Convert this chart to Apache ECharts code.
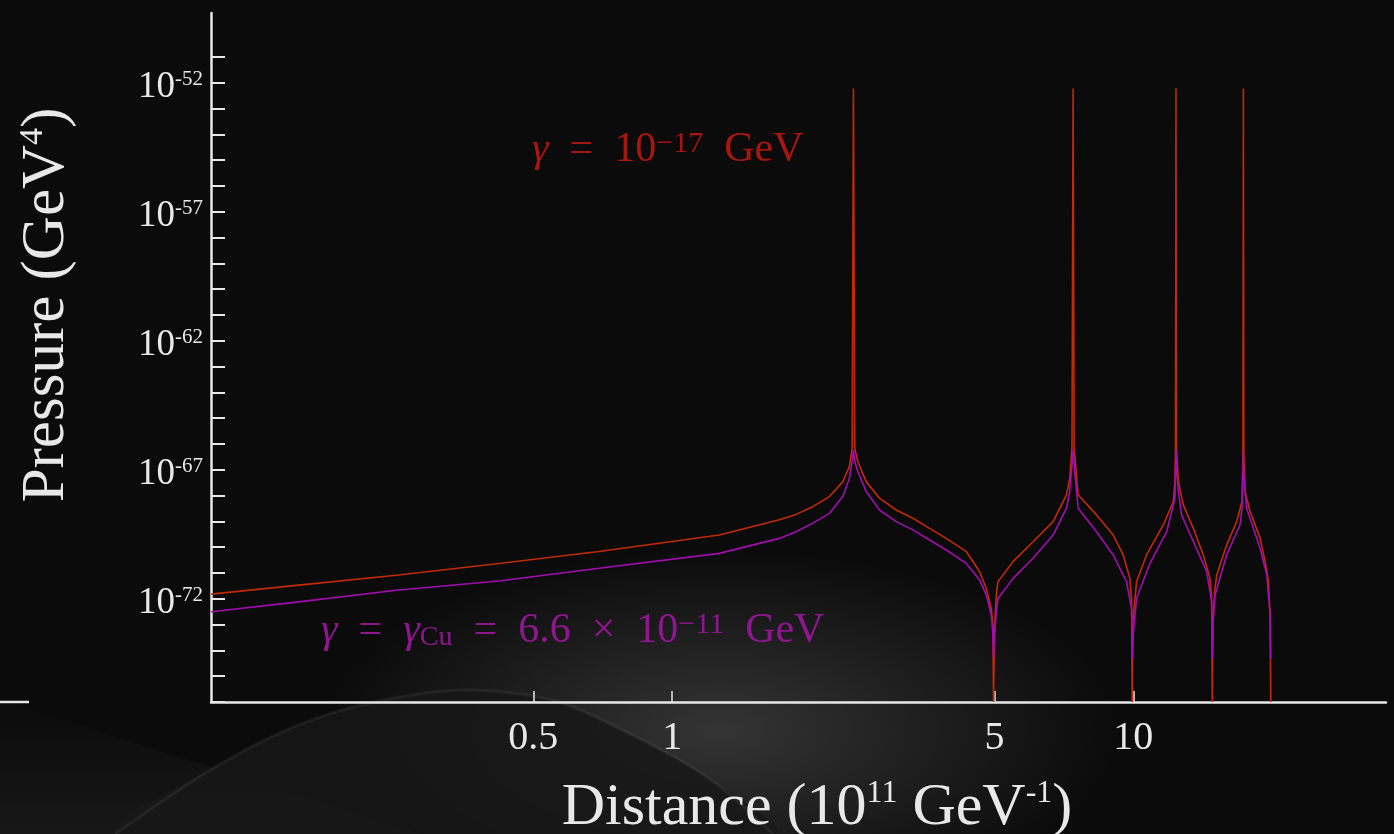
<!DOCTYPE html>
<html>
<head>
<meta charset="utf-8">
<script src="https://cdn.jsdelivr.net/npm/echarts@6/dist/echarts.min.js"></script>
<style>
  html, body { margin: 0; padding: 0; background: #0b0b0b; }
  #chart { width: 1394px; height: 834px; }
</style>
</head>
<body>
<div id="chart"></div>
<script>
// distance in 10^11 GeV^-1 (log axis); pressure given as log10 of GeV^4
var redDist = [0.1, 0.155, 0.255, 0.421, 0.694, 1.265, 1.708, 1.856, 2.017, 2.193, 2.344, 2.423, 2.456, 2.472, 2.488,
  2.526, 2.634, 2.815, 3.06, 3.325, 3.615, 3.929, 4.342, 4.642, 4.799, 4.92, 4.961, 4.975, 5.0, 5.045, 5.087,
  5.483, 6.06, 6.697, 7.16, 7.28, 7.36, 7.402, 7.44, 7.589, 8.318, 9.042, 9.504, 9.826, 9.909, 9.942, 9.97,
  10.16, 10.68, 11.61, 12.21, 12.31, 12.34, 12.37, 12.4, 12.52, 12.83, 13.49, 14.18, 14.66, 14.78, 14.83, 14.88,
  15.03, 15.16, 15.93, 16.75, 17.2, 17.28, 17.32, 17.36, 17.46, 17.91, 18.83, 19.31, 19.63, 19.79, 19.86];
var redLogP = [-71.82, -71.47, -71.08, -70.63, -70.17, -69.53, -68.94, -68.73, -68.43, -68.04, -67.46, -66.87, -66.16, -52.23, -66.16,
  -66.68, -67.46, -68.10, -68.56, -68.88, -69.27, -69.66, -70.17, -70.95, -71.60, -72.38, -73.15, -76, -73.15, -71.86, -71.34,
  -70.56, -69.79, -69.01, -67.97, -67.33, -66.16, -52.23, -66.16, -67.97, -68.75, -69.53, -70.30, -71.21, -71.99, -76, -72.89,
  -71.34, -70.30, -69.14, -68.23, -67.46, -66.16, -52.23, -66.16, -67.46, -68.36, -69.27, -70.30, -71.21, -71.86, -76, -72.89,
  -71.60, -71.08, -69.92, -69.01, -68.23, -66.42, -52.23, -66.42, -67.84, -68.62, -69.66, -70.56, -71.34, -72.63, -76];

var purpleDist = [0.1, 0.155, 0.255, 0.421, 0.694, 1.265, 1.708, 1.856, 2.017, 2.193, 2.344, 2.423, 2.456, 2.472, 2.488,
  2.526, 2.634, 2.815, 3.06, 3.325, 3.615, 3.929, 4.342, 4.642, 4.799, 4.92, 4.961, 4.975, 5.0, 5.045, 5.087,
  5.483, 6.06, 6.697, 7.16, 7.28, 7.36, 7.402, 7.44, 7.589, 8.318, 9.042, 9.504, 9.665, 9.909, 9.942, 9.96, 9.99,
  10.16, 10.86, 11.81, 12.31, 12.34, 12.37, 12.4, 12.52, 12.72, 13.49, 14.42, 14.78, 14.83, 14.88,
  15.03, 15.93, 17.03, 17.2, 17.28, 17.32, 17.36, 17.6, 18.83, 19.47, 19.79, 19.84];
var purpleLogP = [-72.50, -72.12, -71.66, -71.31, -70.82, -70.24, -69.66, -69.40, -69.07, -68.69, -68.04, -67.33, -66.68, -66.23, -66.68,
  -67.07, -67.84, -68.56, -69.01, -69.33, -69.72, -70.11, -70.63, -71.27, -71.86, -72.63, -73.41, -74.32, -73.41, -72.50, -71.99,
  -71.21, -70.43, -69.53, -68.49, -67.84, -66.81, -66.23, -66.81, -68.49, -69.40, -70.30, -71.08, -71.34, -72.38, -73.41, -74.32, -73.41,
  -71.99, -70.63, -69.40, -68.10, -66.94, -66.23, -66.94, -67.84, -68.75, -69.79, -70.95, -72.12, -74.32, -72.89,
  -71.86, -70.30, -69.14, -68.49, -67.20, -66.29, -67.20, -68.49, -70.05, -71.08, -72.63, -74.32];

var xTickValues = [0.5, 1, 5, 10];
var yTickExps = [-76, -75, -74, -73, -72, -71, -70, -69, -68, -67, -66, -65, -64,
  -63, -62, -61, -60, -59, -58, -57, -56, -55, -54, -53, -52, -51];
var yLabelExps = [-72, -67, -62, -57, -52];

var axisColor = '#e8e8e8';
var serif = 'Liberation Serif';
var en = '\u2002';

function pairs(xs, ys) {
  var out = [];
  for (var i = 0; i < xs.length; i++) out.push([xs[i], ys[i]]);
  return out;
}

var hillPts = [[115, 834], [222, 763], [311, 720], [400, 697], [471, 690], [551, 700], [622, 730], [711, 780], [773, 834]];

var chart = echarts.init(document.getElementById('chart'));
var option = {
  backgroundColor: '#0b0b0b',
  animation: false,
  grid: { left: 211, right: 8, top: 13, bottom: 132 },
  graphic: [
    // soft grey glow + hill in the backdrop
    {
      type: 'circle', z: -10, silent: true,
      shape: { cx: 0, cy: 0, r: 400 },
      x: 720, y: 730, scaleY: 0.45,
      style: {
        fill: {
          type: 'radial', x: 0.5, y: 0.5, r: 0.5,
          colorStops: [
            { offset: 0, color: 'rgba(255,255,255,0.17)' },
            { offset: 1, color: 'rgba(255,255,255,0)' }
          ]
        }
      }
    },
    {
      type: 'polygon', z: -9, silent: true,
      shape: { points: [[0, 700], [420, 834], [0, 834]] },
      style: {
        fill: {
          type: 'linear', x: 0, y: 0, x2: 0, y2: 1,
          colorStops: [
            { offset: 0, color: 'rgba(255,255,255,0)' },
            { offset: 1, color: 'rgba(255,255,255,0.05)' }
          ]
        }
      }
    },
    {
      type: 'polygon', z: -8, silent: true,
      shape: { smooth: 0.35, points: hillPts },
      style: { fill: 'rgba(24,24,24,0.85)' }
    },
    {
      type: 'polyline', z: -7, silent: true,
      shape: { smooth: 0.35, points: hillPts },
      style: { stroke: 'rgba(255,255,255,0.06)', lineWidth: 3, fill: null }
    },
    // stub of axis line at far left
    {
      type: 'line', z: 5, silent: true,
      shape: { x1: 0, y1: 702, x2: 29, y2: 702 },
      style: { stroke: axisColor, lineWidth: 2.5 }
    },
    {
      type: 'text', z: 50, silent: true,
      x: 47, y: 305, rotation: Math.PI / 2,
      style: {
        text: 'Pressure (GeV{s|4})',
        fill: axisColor, font: '61px "Liberation Serif"',
        align: 'center', verticalAlign: 'middle',
        rich: { s: { fontSize: 34, fontFamily: serif, fill: axisColor, verticalAlign: 'top' } }
      }
    },
    {
      type: 'text', z: 50, silent: true,
      x: 817, y: 808,
      style: {
        text: 'Distance (10{s|11} GeV{s|-1})',
        fill: axisColor, font: '60px "Liberation Serif"',
        align: 'center', verticalAlign: 'middle',
        rich: { s: { fontSize: 32, fontFamily: serif, fill: axisColor, verticalAlign: 'top' } }
      }
    },
    {
      type: 'text', z: 50, silent: true,
      x: 532, y: 150,
      style: {
        text: '{i|γ}' + en + '=' + en + '10{s|−17}' + en + 'GeV',
        fill: '#a81610', font: '42px "Liberation Serif"',
        align: 'left', verticalAlign: 'middle',
        rich: {
          i: { fontSize: 42, fontFamily: serif, fontStyle: 'italic', fill: '#a81610' },
          s: { fontSize: 30, fontFamily: serif, fill: '#a81610', verticalAlign: 'top' }
        }
      }
    },
    {
      type: 'text', z: 50, silent: true,
      x: 321, y: 631,
      style: {
        text: '{i|γ}' + en + '=' + en + '{i|γ}{b|Cu}' + en + '=' + en + '6.6' + en + '×' + en + '10{s|−11}' + en + 'GeV',
        fill: '#8e168e', font: '42px "Liberation Serif"',
        align: 'left', verticalAlign: 'middle',
        rich: {
          i: { fontSize: 42, fontFamily: serif, fontStyle: 'italic', fill: '#8e168e' },
          b: { fontSize: 28, fontFamily: serif, fill: '#8e168e', verticalAlign: 'bottom' },
          s: { fontSize: 30, fontFamily: serif, fill: '#8e168e', verticalAlign: 'top' }
        }
      }
    }
  ],
  xAxis: {
    type: 'log', logBase: 10,
    min: 0.1, max: 35.3,
    axisLine: { show: true, lineStyle: { color: axisColor, width: 2.5 } },
    axisTick: { show: true, inside: true, length: 11, customValues: xTickValues,
      lineStyle: { color: axisColor, width: 1.5 } },
    splitLine: { show: false },
    axisLabel: {
      customValues: xTickValues, margin: 16,
      color: axisColor, fontFamily: serif, fontSize: 40,
      formatter: function (v) { return String(+(+v).toPrecision(3)); }
    }
  },
  yAxis: {
    // log10 of pressure, drawn as a decade axis
    type: 'value',
    min: -76, max: -49.3,
    axisLine: { show: true, lineStyle: { color: axisColor, width: 2.5 } },
    axisTick: { show: true, inside: true, length: 14, customValues: yTickExps,
      lineStyle: { color: axisColor, width: 2 } },
    splitLine: { show: false },
    axisLabel: {
      customValues: yLabelExps, margin: 8,
      color: axisColor, fontFamily: serif, fontSize: 36,
      padding: [10, 0, 0, 0],
      formatter: function (v) {
        return '{b|10}{s|' + Math.round(v) + '}';
      },
      rich: {
        b: { fontSize: 37, fontFamily: serif, color: axisColor },
        s: { fontSize: 21, fontFamily: serif, color: axisColor, verticalAlign: 'top' }
      }
    }
  },
  series: [
    {
      name: 'γ = 1e-17 GeV', type: 'line', showSymbol: false, smooth: false,
      data: pairs(redDist, redLogP),
      lineStyle: { color: '#c22a08', width: 1.6 }, z: 3
    },
    {
      name: 'γ = γCu', type: 'line', showSymbol: false, smooth: false,
      data: pairs(purpleDist, purpleLogP),
      lineStyle: { color: '#a30cb0', width: 1.6 }, z: 4
    }
  ]
};
chart.setOption(option);
</script>
</body>
</html>
